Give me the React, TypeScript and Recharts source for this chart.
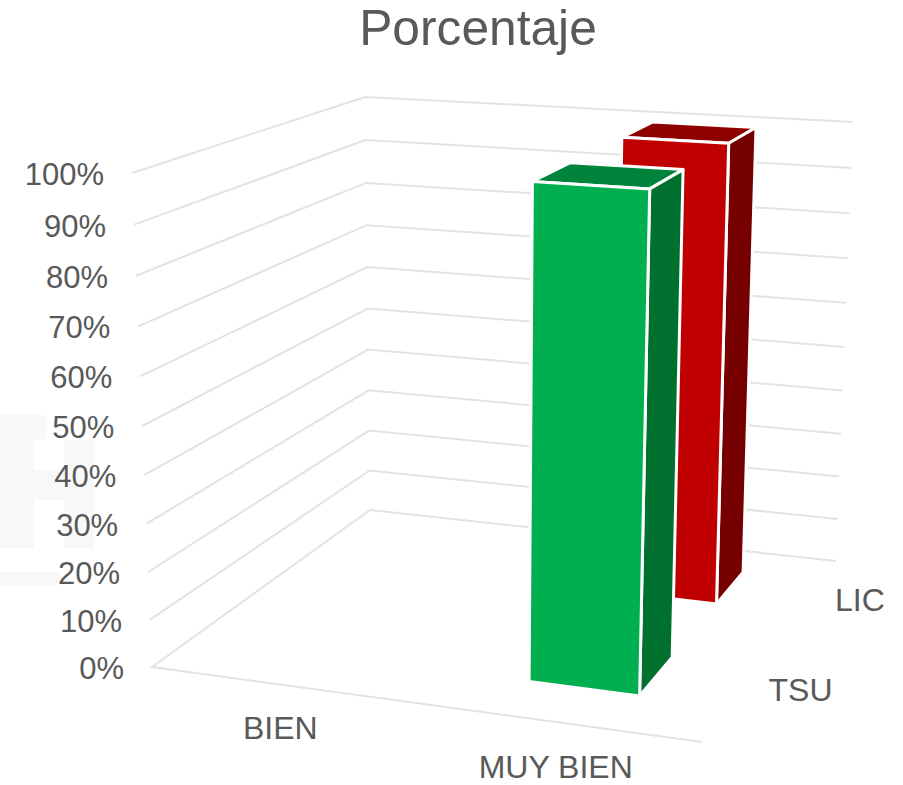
import React from "react";
import { BarChart, Bar, XAxis, YAxis, CartesianGrid } from "recharts";

const categories = ["BIEN", "MUY BIEN"];
const tsuValues = [0, 100];
const licValues = [0, 100];
const yTicks = [0, 10, 20, 30, 40, 50, 60, 70, 80, 90, 100];
const seriesNames = ["TSU", "LIC"];
const seriesDepthCentres = [0.295, 0.79];
const seriesLabelShift = [59, 52];

const chartData = categories.map((name, i) => ({ name, TSU: tsuValues[i], LIC: licValues[i] }));

const W = 903;
const H = 785;
const M = 20;
const PW = W - 2 * M;
const PH = H - 2 * M;
const FONT = "'Liberation Sans', Arial, sans-serif";
const TEXT = "#595959";
const GRID = "#E3E3E3";
const FAINT = "#F8F8F8";
const BAR_SIZE = 0.207 * PW;

type P = [number, number];
// 3D box seen by the camera: floor corners and top corners (front-left, front-right, back-right, back-left)
const FLOOR: P[] = [[152, 667], [702, 742], [836, 561], [370, 510]];
const CEIL: P[] = [[132, 173], [717, 212], [853, 122], [365, 97]];

const warp = (v: number) => v / (v + (1 - v) * 1.05);
const bilerp = (q: P[], u: number, w: number): P => {
  const lx = q[0][0] + (q[3][0] - q[0][0]) * w;
  const ly = q[0][1] + (q[3][1] - q[0][1]) * w;
  const rx = q[1][0] + (q[2][0] - q[1][0]) * w;
  const ry = q[1][1] + (q[2][1] - q[1][1]) * w;
  return [lx + (rx - lx) * u, ly + (ry - ly) * u];
};
const project = (u: number, v: number, w: number): P => {
  const a = bilerp(FLOOR, u, w);
  const b = bilerp(CEIL, u, w);
  const t = warp(v);
  return [a[0] + (b[0] - a[0]) * t, a[1] + (b[1] - a[1]) * t];
};
const pts = (list: P[]) => list.map((p) => `${p[0].toFixed(1)},${p[1].toFixed(1)}`).join(" ");

const makeBarShape = (key: string, w0: number, w1: number, front: string, side: string, top: string) => (props: any) => {
  const value = props.payload?.[key] ?? 0;
  if (!value) return <g />;
  const u0 = (props.x - M) / PW;
  const u1 = (props.x + props.width - M) / PW;
  const v = value / 100;
  const frontFace = [project(u0, v, w0), project(u1, v, w0), project(u1, 0, w0), project(u0, 0, w0)];
  const sideFace = [project(u1, v, w0), project(u1, v, w1), project(u1, 0, w1), project(u1, 0, w0)];
  const topFace = [project(u0, v, w0), project(u0, v, w1), project(u1, v, w1), project(u1, v, w0)];
  const common = { stroke: "#FFFFFF", strokeWidth: 3, strokeLinejoin: "round" as const };
  return (
    <g>
      <polygon points={pts(topFace)} fill={top} {...common} />
      <polygon points={pts(sideFace)} fill={side} {...common} />
      <polygon points={pts(frontFace)} fill={front} {...common} />
    </g>
  );
};

const licShape = makeBarShape("LIC", 0.71, 0.89, "#C00000", "#760000", "#8E0000");
const tsuShape = makeBarShape("TSU", 0.19, 0.41, "#00B050", "#00702F", "#00843B");

const gridLine = (props: any) => {
  const v = (PH + M - props.y1) / PH;
  const a = project(0, v, 0);
  const b = project(0, v, 1);
  const c = project(1, v, 1);
  const list = Math.abs(v) < 0.001 ? [project(1, 0, 0), a, b, c] : [a, b, c];
  return (
    <polyline
      key={`g-${props.index}`}
      points={pts(list)}
      fill="none"
      stroke={GRID}
      strokeWidth={2}
    />
  );
};

const YTick = (props: any) => {
  const v = props.payload.value / 100;
  const p = project(0, v, 0);
  return (
    <text x={p[0] - 28} y={p[1] + 12} textAnchor="end" fontSize={31} fontFamily={FONT} fill={TEXT}>
      {`${props.payload.value}%`}
    </text>
  );
};

const XTick = (props: any) => {
  const u = (props.x - M) / PW;
  const p = project(u, 0, 0);
  const dx = -6 + 14 * (u - 0.245);
  const dy = 54 + 4 * (u - 0.245);
  return (
    <text x={p[0] + dx} y={p[1] + dy} textAnchor="middle" fontSize={32} fontFamily={FONT} fill={TEXT}>
      {props.payload.value}
    </text>
  );
};

const DepthTick = (props: any) => {
  const w = props.payload.value;
  const p = project(1, 0, w);
  const i = seriesDepthCentres.indexOf(w);
  return (
    <text x={p[0] + seriesLabelShift[i]} y={p[1] + 12} textAnchor="middle" fontSize={32} fontFamily={FONT} fill={TEXT}>
      {seriesNames[i]}
    </text>
  );
};

export default function App() {
  return (
    <div style={{ position: "absolute", left: 0, top: 0, width: W, height: H, background: "#FFFFFF" }}>
      <BarChart
        width={W}
        height={H}
        data={chartData}
        margin={{ top: M, right: M, bottom: M - 2, left: M - 1 }}
        barSize={BAR_SIZE}
        barGap={-BAR_SIZE}
        barCategoryGap={0}
      >
        <g>
          <rect x={0} y={415} width={34} height={133} fill={FAINT} />
          <rect x={0} y={415} width={46} height={24} fill={FAINT} />
          <rect x={34} y={470} width={32} height={30} fill={FAINT} />
          <rect x={64} y={440} width={30} height={108} fill={FAINT} />
          <rect x={0} y={572} width={60} height={13} fill={FAINT} />
        </g>
        <CartesianGrid horizontal={gridLine} vertical={false} />
        <XAxis
          dataKey="name"
          height={1}
          axisLine={false}
          tickLine={false}
          interval={0}
          tick={XTick}
          padding={{ left: 0, right: 0.0233 * PW }}
        />
        <XAxis
          xAxisId="depth"
          type="number"
          domain={[0, 1]}
          ticks={seriesDepthCentres}
          height={1}
          axisLine={false}
          tickLine={false}
          interval={0}
          tick={DepthTick}
        />
        <YAxis
          domain={[0, 100]}
          ticks={yTicks}
          width={1}
          axisLine={false}
          tickLine={false}
          interval={0}
          tick={YTick}
        />
        <Bar dataKey="LIC" shape={licShape} isAnimationActive={false} />
        <Bar dataKey="TSU" shape={tsuShape} isAnimationActive={false} />
        <text x={478} y={45} textAnchor="middle" fontSize={49.7} fontFamily={FONT} fill={TEXT}>
          Porcentaje
        </text>
      </BarChart>
    </div>
  );
}
